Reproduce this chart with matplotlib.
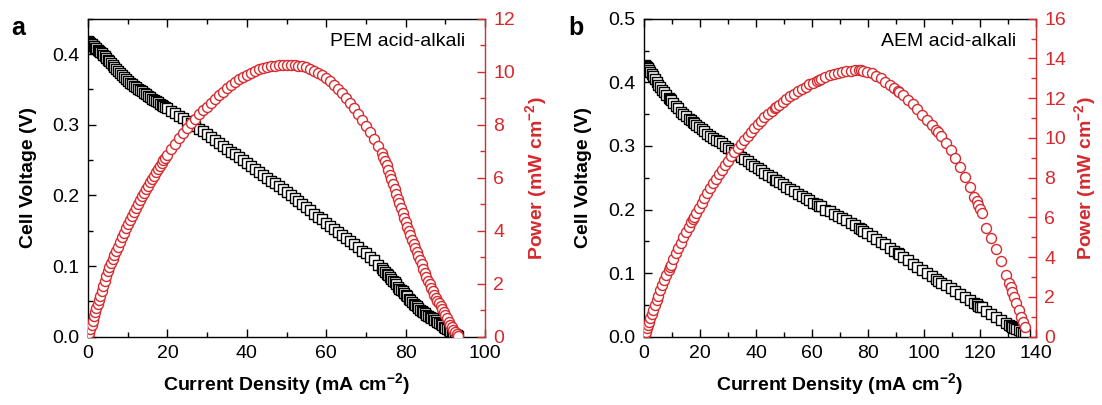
import matplotlib
matplotlib.use('Agg')

import matplotlib.pyplot as plt
from matplotlib.ticker import MultipleLocator

plt.rcParams.update({
    'font.family': ['Liberation Sans', 'DejaVu Sans'],
    'font.size': 14,
    'mathtext.fontset': 'custom',
    'mathtext.rm': 'Liberation Sans',
    'mathtext.bf': 'Liberation Sans:bold',
})

RED = '#d52a2e'

# ---- PEM acid-alkali cell ----
cur_a = [0.0, 0.3, 0.6, 0.9, 1.2, 1.5, 1.8, 2.1, 2.4, 2.7, 3.0, 3.4, 3.8, 4.2, 4.6, 5.0, 5.4, 5.8, 6.2, 6.6, 7.0, 7.5, 8.0,
         8.5, 9.0, 9.5, 10.0, 10.5, 11.0, 11.5, 12.0, 12.5, 13.0, 13.5, 14.0, 14.5, 15.0, 15.5, 16.0, 16.5, 17.0, 17.5,
         18.0, 18.5, 19.0, 19.5, 20.0,
         21, 22, 23, 24, 25, 26, 27, 28, 29, 30, 31, 32, 33, 34, 35, 36, 37, 38, 39, 40, 41, 42, 43, 44, 45, 46, 47,
         48, 49, 50, 51, 52, 53, 54, 55, 56, 57, 58, 59, 60, 61, 62, 63, 64, 65, 66, 67, 68, 69, 70, 71, 72, 73, 74,
         74.4, 74.8, 75.2, 75.6, 76.0, 76.4, 76.8, 77.2, 77.6, 78.0, 78.4, 78.8, 79.2, 79.6, 80.0, 80.4, 80.8, 81.2,
         81.6, 82.0, 82.4, 82.8, 83.2, 83.6, 84.0, 84.4, 84.8, 85.2, 85.6, 86.0, 86.4, 86.8, 87.2, 87.6, 88.0, 88.4,
         88.8, 89.2, 89.6, 90.0, 90.4, 90.8, 91.2, 91.6, 92.0, 92.4, 92.8, 93.2]
volt_a = [0.418, 0.417, 0.415, 0.414, 0.412, 0.411, 0.409, 0.408, 0.406, 0.404, 0.403, 0.401, 0.399, 0.397, 0.394,
          0.392, 0.390, 0.387, 0.385, 0.382, 0.379, 0.376, 0.373,
          0.370, 0.367, 0.365, 0.362, 0.3595, 0.357, 0.355, 0.353, 0.351, 0.349, 0.347, 0.345, 0.343, 0.341, 0.339,
          0.337, 0.335, 0.333, 0.3315, 0.330, 0.328, 0.326, 0.3245, 0.323,
          0.3195, 0.316, 0.3125, 0.309, 0.305, 0.302, 0.298, 0.294, 0.291, 0.287, 0.283, 0.279, 0.274, 0.270, 0.266,
          0.262, 0.258, 0.254, 0.250, 0.246, 0.242, 0.238, 0.233, 0.229, 0.225, 0.221, 0.217, 0.213, 0.209, 0.205,
          0.2005, 0.196, 0.192, 0.188, 0.183, 0.179, 0.174, 0.170, 0.166, 0.161, 0.157, 0.153, 0.148, 0.144, 0.140,
          0.135, 0.131, 0.127, 0.122, 0.118, 0.113, 0.108, 0.102, 0.097,
          0.095, 0.092, 0.089, 0.087, 0.084, 0.082, 0.079, 0.077, 0.074, 0.071, 0.068, 0.066, 0.064, 0.062, 0.059,
          0.057, 0.054, 0.052, 0.049, 0.047, 0.045, 0.043, 0.040, 0.038, 0.036, 0.035, 0.033, 0.031, 0.030, 0.028,
          0.027, 0.026, 0.024, 0.023, 0.021, 0.019, 0.018, 0.016, 0.014, 0.013, 0.011, 0.009, 0.008, 0.006, 0.005,
          0.004, 0.003, 0.001]
power_a = [0.05, 0.15, 0.30, 0.45, 0.60, 0.78, 0.93, 1.08, 1.23, 1.38, 1.53, 1.72, 1.92, 2.10, 2.30, 2.47, 2.63,
           2.78, 2.93, 3.08, 3.23, 3.40, 3.58,
           3.75, 3.92, 4.09, 4.26, 4.42, 4.57, 4.72, 4.87, 5.02, 5.16, 5.30, 5.44, 5.57, 5.70, 5.83, 5.96, 6.08, 6.20,
           6.32, 6.44, 6.55, 6.66, 6.76, 6.86,
           7.07, 7.29, 7.50, 7.69, 7.88, 8.06, 8.23, 8.39, 8.54, 8.68, 8.82, 8.96, 9.12, 9.25, 9.38, 9.50, 9.61, 9.71,
           9.80, 9.89, 9.97, 10.03, 10.09, 10.14, 10.18, 10.21, 10.23, 10.25, 10.26, 10.26, 10.26, 10.25, 10.23,
           10.20, 10.16, 10.11, 10.04, 9.96, 9.87, 9.76, 9.64, 9.50, 9.35, 9.19, 9.02, 8.83, 8.63, 8.42, 8.19, 7.96,
           7.72, 7.47, 7.20, 6.92,
           6.78, 6.63, 6.47, 6.30, 6.12, 5.94, 5.76, 5.57, 5.39, 5.21, 5.03, 4.85, 4.67, 4.49, 4.32, 4.15, 3.98, 3.82,
           3.66, 3.50, 3.35, 3.20, 3.05, 2.89, 2.73, 2.57, 2.41, 2.26, 2.12, 1.98, 1.84, 1.71, 1.59, 1.47, 1.36, 1.26,
           1.15, 1.05, 0.94, 0.82, 0.69, 0.56, 0.45, 0.36, 0.27, 0.19, 0.11, 0.04]

# ---- AEM acid-alkali cell ----
cur_b = [0.3, 0.6, 1.0, 1.4, 1.8, 2.3, 2.8, 3.3, 3.9, 4.5, 5.1, 5.8, 6.5, 7.2, 8.0, 8.8, 9.3, 9.6, 10.5, 11.4,
         12.3, 13.2, 14.1, 15.0, 15.9, 16.8, 17.4, 17.7, 18.6, 19.6, 20.6, 21.6, 22.6, 23.6, 24.6, 25.6, 26.7, 27.8,
         28.9, 30.0, 31.1, 32.2, 33.4, 34.6, 35.8, 37.0, 38.2, 39.4, 40.6, 41.8, 43.0, 44.3, 45.6, 46.9, 47.2, 48.2,
         49.5, 50.8, 52.1, 53.5, 54.9, 56.3, 57.7, 59.1, 60.5, 61.9, 62.6, 63.3, 64.8, 66.3, 67.8, 69.3, 70.8, 72.3,
         73.8, 75.3, 76.8, 77.4, 78.3, 79.8, 81.4, 83.0, 84.6, 86.2, 87.8, 89.4, 90.6, 91.0, 92.6, 94.2, 95.9, 97.6,
         99.3, 101.0, 102.7, 104.4, 105.0, 106.1, 107.8, 109.5, 111.2, 112.9, 114.6, 116.3, 118.0, 118.8, 119.4,
         120.0, 120.6, 122.3, 124.0, 125.8, 127.6, 129.4, 130.5, 131.0, 131.6, 132.2, 133.0, 133.8, 134.6, 135.4,
         136.2]
volt_b = [0.428, 0.426, 0.424, 0.422, 0.419, 0.416, 0.413, 0.410, 0.405, 0.400, 0.396, 0.392, 0.388, 0.385, 0.380,
          0.376, 0.373, 0.372, 0.367, 0.363, 0.359, 0.354, 0.350, 0.347, 0.343, 0.340, 0.337, 0.336, 0.333, 0.329,
          0.326, 0.323, 0.319, 0.316, 0.313, 0.310, 0.307, 0.304, 0.300, 0.297, 0.294, 0.290, 0.286, 0.282, 0.279,
          0.276, 0.272, 0.269, 0.266, 0.262, 0.258, 0.254, 0.251, 0.247, 0.246, 0.243, 0.240, 0.236, 0.233, 0.229,
          0.225, 0.222, 0.218, 0.215, 0.211, 0.208, 0.206, 0.205, 0.200, 0.197, 0.193, 0.190, 0.186, 0.183, 0.179,
          0.175, 0.171, 0.170, 0.167, 0.163, 0.158, 0.154, 0.149, 0.145, 0.140, 0.135, 0.131, 0.130, 0.125, 0.120,
          0.115, 0.110, 0.105, 0.100, 0.095, 0.090, 0.088, 0.085, 0.081, 0.076, 0.072, 0.067, 0.063, 0.058, 0.053,
          0.051, 0.049, 0.047, 0.046, 0.041, 0.036, 0.031, 0.026, 0.022, 0.019, 0.017, 0.016, 0.014, 0.012, 0.010,
          0.008, 0.006, 0.004]
power_b = [0.12, 0.25, 0.42, 0.59, 0.76, 0.96, 1.16, 1.36, 1.60, 1.84, 2.07, 2.33, 2.58, 2.83, 3.10, 3.37, 3.53,
           3.63, 3.92, 4.20, 4.47, 4.74, 5.00, 5.26, 5.51, 5.76, 5.92, 6.00, 6.24, 6.50, 6.75, 7.00, 7.24, 7.48,
           7.71, 7.94, 8.18, 8.41, 8.64, 8.86, 9.07, 9.28, 9.50, 9.71, 9.92, 10.12, 10.31, 10.50, 10.68, 10.86,
           11.03, 11.20, 11.37, 11.52, 11.56, 11.67, 11.82, 11.96, 12.09, 12.22, 12.35, 12.47, 12.58, 12.69, 12.79,
           12.89, 12.94, 12.98, 13.07, 13.15, 13.22, 13.28, 13.33, 13.37, 13.39, 13.40, 13.40, 13.40, 13.39, 13.34,
           13.26, 13.14, 13.00, 12.83, 12.66, 12.50, 12.37, 12.32, 12.15, 11.93, 11.70, 11.45, 11.18, 10.92, 10.65,
           10.38, 10.28, 10.08, 9.75, 9.40, 9.00, 8.55, 8.05, 7.55, 7.05, 6.85, 6.65, 6.42, 6.20, 5.45, 4.95, 4.40,
           3.80, 3.10, 2.70, 2.50, 2.25, 2.00, 1.70, 1.35, 1.00, 0.75, 0.50]

XLABEL = r'Current Density (mA cm$^{\mathbf{-2}}$)'
PLABEL = r'Power (mW cm$^{\mathbf{-2}}$)'


def draw_panel(rect, cur, volt, power, xmax, vmax, pmax, note, letter, letter_x, vlab_x, plab_x):
    ax = fig.add_axes(rect)
    axp = ax.twinx()

    ax.plot(cur, volt, ls='none', marker='s', ms=6.5, mfc='white', mec='black', mew=1.0)
    axp.plot(cur, power, ls='none', marker='o', ms=7.2, mfc='white', mec=RED, mew=1.0)

    ax.set_xlim(0, xmax)
    ax.set_ylim(0, vmax)
    axp.set_ylim(0, pmax)

    ax.xaxis.set_major_locator(MultipleLocator(20))
    ax.xaxis.set_minor_locator(MultipleLocator(10))
    ax.yaxis.set_major_locator(MultipleLocator(0.1))
    ax.yaxis.set_minor_locator(MultipleLocator(0.05))
    axp.yaxis.set_major_locator(MultipleLocator(2))
    axp.yaxis.set_minor_locator(MultipleLocator(1))

    ax.tick_params(which='both', direction='in', top=True, right=False, width=1.0, labelsize=14, pad=6)
    ax.tick_params(which='major', length=6)
    ax.tick_params(which='minor', length=3.5)
    axp.tick_params(axis='y', which='both', direction='in', colors=RED, width=1.0, labelsize=14, pad=6)
    axp.tick_params(axis='y', which='major', length=6)
    axp.tick_params(axis='y', which='minor', length=3.5)

    ax.spines['right'].set_visible(False)
    for side in ('left', 'top', 'bottom'):
        axp.spines[side].set_visible(False)
        ax.spines[side].set_linewidth(1.0)
    axp.spines['right'].set_color(RED)
    axp.spines['right'].set_linewidth(1.0)

    ax.set_xlabel(XLABEL, fontsize=14, fontweight='bold')
    ax.set_ylabel('Cell Voltage (V)', fontsize=14, fontweight='bold')
    axp.set_ylabel(PLABEL, fontsize=14, fontweight='bold', color=RED)
    ax.xaxis.set_label_coords(0.5, -0.11)
    ax.yaxis.set_label_coords(vlab_x, 0.5)
    axp.yaxis.set_label_coords(plab_x, 0.5)

    ax.text(0.95, 0.927, note, transform=ax.transAxes, ha='right', va='center', fontsize=14)
    fig.text(letter_x, 0.913, letter, fontsize=18, fontweight='bold', ha='left', va='baseline')


fig = plt.figure(figsize=(11.02, 4.05), dpi=100)

draw_panel([0.0799, 0.1686, 0.3603, 0.7852], cur_a, volt_a, power_a, 100, 0.45, 12,
           'PEM acid-alkali', 'a', 0.010, -0.128, 1.096)
draw_panel([0.5844, 0.1686, 0.3557, 0.7852], cur_b, volt_b, power_b, 140, 0.5, 16,
           'AEM acid-alkali', 'b', 0.516, -0.133, 1.092)

fig.savefig('out.png', dpi=100)
